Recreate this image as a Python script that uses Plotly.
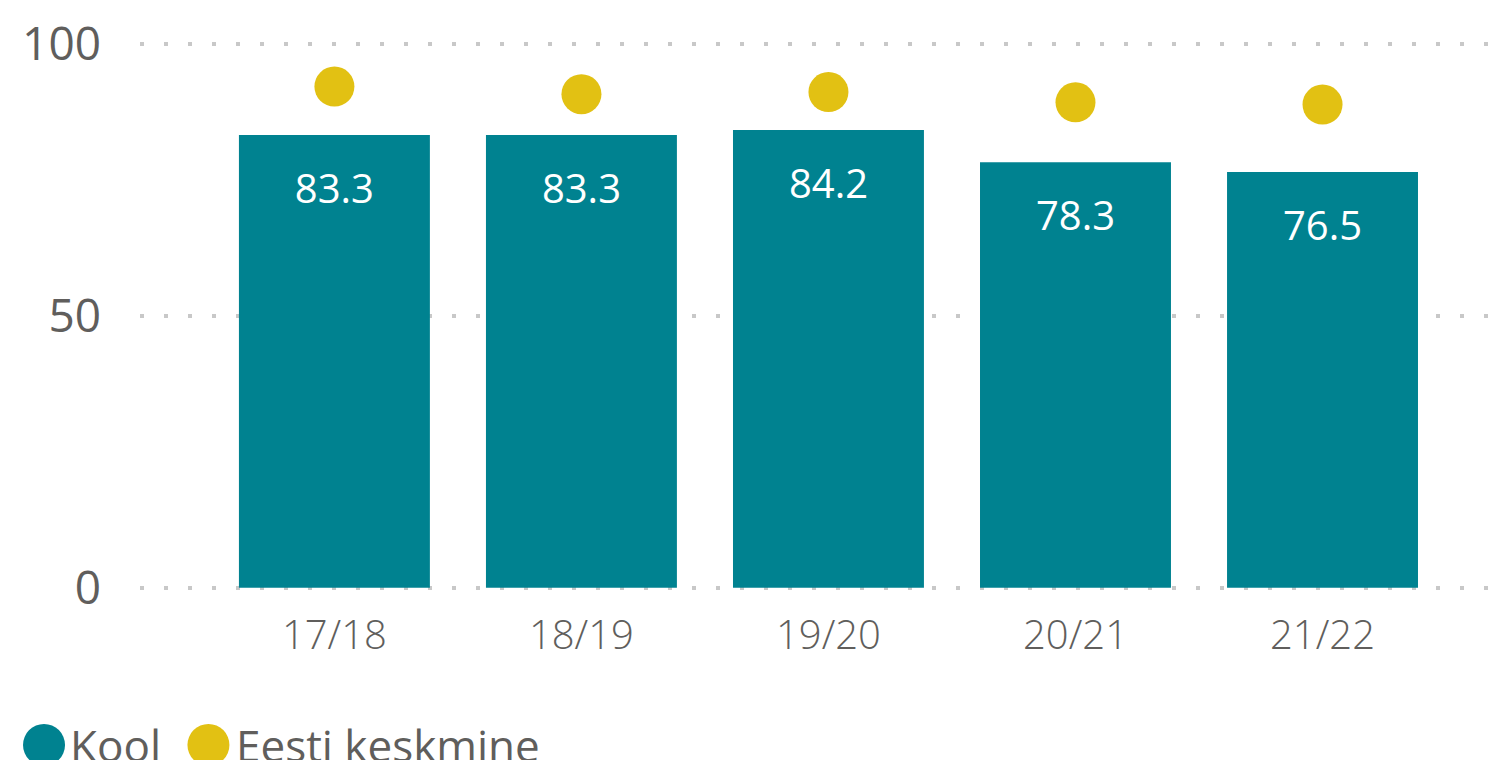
import plotly.graph_objects as go

# ── Data ──────────────────────────────────────────────────────────────────────
years        = ["17/18", "18/19", "19/20", "20/21", "21/22"]
kool         = [83.3, 83.3, 84.2, 78.3, 76.5]
eesti        = [92.2, 90.8, 91.2, 89.3, 88.9]
y_tick_vals  = [0, 50, 100]

_BAR_COLOR   = "#008290"
_DOT_COLOR   = "#E2C113"
_TEXT_COLOR  = "#605E5C"
_GRID_COLOR  = "#C8C8C8"
_FONT        = "Segoe UI, Open Sans, Noto Sans, sans-serif"

# label sits a fixed distance below the bar top (in data units)
LABEL_DROP = 10.7

fig = go.Figure()

fig.add_trace(go.Bar(
    x            = years,
    y            = kool,
    name         = "Kool",
    marker       = dict(color=_BAR_COLOR, line=dict(width=0)),
    hoverinfo    = "skip",
    showlegend   = False,
))

fig.add_trace(go.Scatter(
    x            = years,
    y            = [v - LABEL_DROP for v in kool],
    mode         = "text",
    text         = [f"{v:.1f}" for v in kool],
    textposition = "middle center",
    textfont     = dict(family=_FONT, size=40, color="#FFFFFF"),
    hoverinfo    = "skip",
    showlegend   = False,
))

fig.add_trace(go.Scatter(
    x            = years,
    y            = eesti,
    mode         = "markers",
    name         = "Eesti keskmine",
    marker       = dict(color=_DOT_COLOR, size=40, line=dict(width=0)),
    hoverinfo    = "skip",
    showlegend   = False,
))

# ── Legend drawn by hand (big round swatches like the source) ────────────────
legend_items = [("Kool", _BAR_COLOR, -0.0711, -0.0533),
                ("Eesti keskmine", _DOT_COLOR, 0.0507, 0.0696)]
legend_y = -0.2827
shapes, annotations = [], []
for label, color, cx, tx in legend_items:
    shapes.append(dict(
        type="circle", xref="paper", yref="paper",
        xsizemode="pixel", ysizemode="pixel",
        xanchor=cx, yanchor=legend_y,
        x0=-21, x1=21, y0=-21, y1=21,
        fillcolor=color, line=dict(width=0),
    ))
    annotations.append(dict(
        text=label, xref="paper", yref="paper",
        x=tx, y=legend_y, xanchor="left", yanchor="middle",
        showarrow=False,
        font=dict(family=_FONT, size=44, color=_TEXT_COLOR),
    ))

# page body adds an 8px offset, so the figure is 8px smaller than the window
fig.update_layout(
    width         = 1492,
    height        = 752,
    margin        = dict(l=132, r=10, t=34, b=170),
    paper_bgcolor = "#FFFFFF",
    plot_bgcolor  = "#FFFFFF",
    bargap        = 0.227,
    showlegend    = False,
    shapes        = shapes,
    annotations   = annotations,
    xaxis = dict(
        type       = "category",
        range      = [-0.787, 4.678],
        automargin = False,
        showgrid   = False,
        showline   = False,
        zeroline   = False,
        ticks      = "",
        tickfont   = dict(family=_FONT, size=40, color=_TEXT_COLOR, weight=300),
        ticklabelstandoff = 18,
    ),
    yaxis = dict(
        range      = [-0.4, 100.4],
        automargin = False,
        tickvals   = y_tick_vals,
        showgrid   = True,
        gridcolor  = _GRID_COLOR,
        gridwidth  = 4,
        griddash   = "4px,20px",
        zeroline   = False,
        showline   = False,
        ticks      = "",
        tickfont   = dict(family=_FONT, size=46, color=_TEXT_COLOR),
        ticklabelstandoff = 38,
    ),
)

fig.write_html("out.html")
